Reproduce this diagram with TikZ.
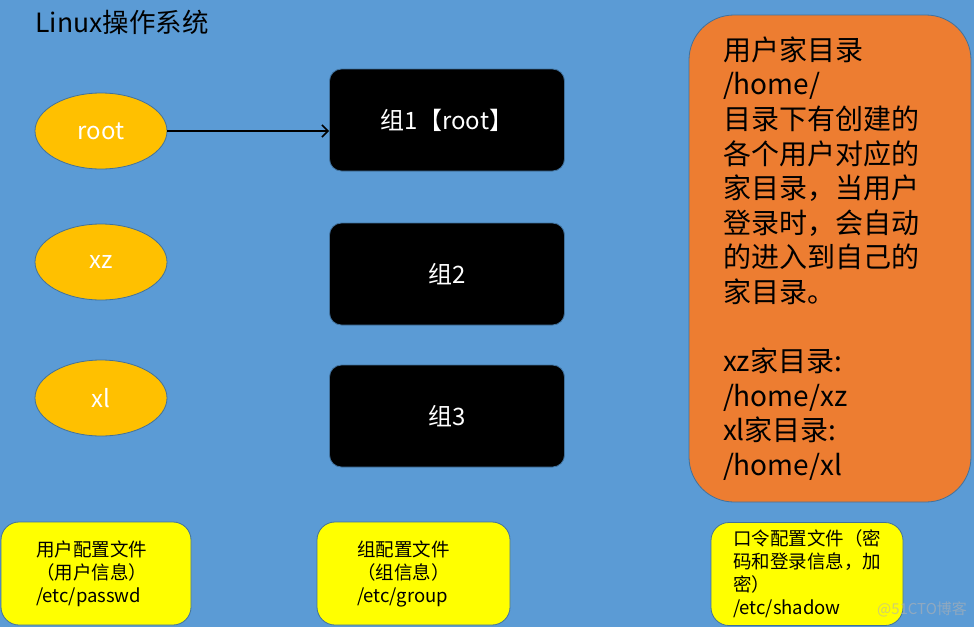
\documentclass[tikz,border=0pt]{standalone}
\usepackage{fontspec}
\setmainfont{Noto Sans CJK SC}
\usetikzlibrary{shapes.geometric,arrows.meta}
\definecolor{bg}{HTML}{5B9BD5}
\definecolor{edge}{HTML}{41719C}
\definecolor{gold}{HTML}{FFC000}
\definecolor{orange}{HTML}{ED7D31}
\definecolor{lemon}{HTML}{FFFF00}

\begin{document}
\begin{tikzpicture}
  [x=1pt,y=-1pt,
   user/.style={ellipse,draw=edge,line width=0.8pt,fill=gold,minimum width=132pt,minimum height=76pt,text=white,font=\fontsize{24}{28}\selectfont},
   grp/.style={rectangle,rounded corners=12pt,draw=edge,line width=0.8pt,fill=black,minimum width=235pt,minimum height=102pt,text=white,font=\fontsize{24}{28}\selectfont},
   cfg/.style={rectangle,rounded corners=18pt,draw=edge,line width=0.8pt,fill=lemon,minimum height=103pt,align=left,font=\fontsize{18.5}{23}\selectfont},
   home/.style={rectangle,rounded corners=45pt,draw=edge,line width=0.8pt,fill=orange,minimum height=487pt,align=left,text width=214pt,inner xsep=34pt,font=\fontsize{28}{34.6}\selectfont}]

  \fill[bg] (0,0) rectangle (974,627);
  \useasboundingbox (0,0) rectangle (974,627);

  \node[anchor=west,font=\fontsize{26.5}{30}\selectfont] (title) at (32,22) {Linux操作系统};

  \node[user] (root) at (101,131) {root};
  \node[user] (xz) at (101,262) {xz};
  \node[user] (xl) at (101,398) {xl};

  \node[grp] (g1) at (447,120) {组1【root】};
  \node[grp] (g2) at (447,274) {组2};
  \node[grp] (g3) at (447,416) {组3};

  \draw[-{Straight Barb[length=6pt,width=12pt]},line width=1.6pt] (root.east) -- (g1.west |- root.east);

  \node[home] (homedir) at (830,258.5) {用户家目录\\/home/\\目录下有创建的\\各个用户对应的\\家目录，当用户\\登录时，会自动\\的进入到自己的\\家目录。\\[34.6pt]xz家目录:\\/home/xz\\xl家目录:\\/home/xl};

  \node[cfg,text width=120pt,inner xsep=35pt] (passwd) at (96,573.5) {用户配置文件\\（用户信息）\\/etc/passwd};
  \node[cfg,text width=113pt,inner xsep=40pt] (group) at (413.5,573.5) {组配置文件\\（组信息）\\/etc/group};
  \node[cfg,text width=148pt,inner xsep=22pt] (shadow) at (807,574) {口令配置文件（密\\码和登录信息，加\\密）\\/etc/shadow};

  \node[text=gray!60,opacity=0.6,font=\fontsize{15}{18}\selectfont] (wm) at (922,609) {@51CTO博客};
\end{tikzpicture}
\end{document}
